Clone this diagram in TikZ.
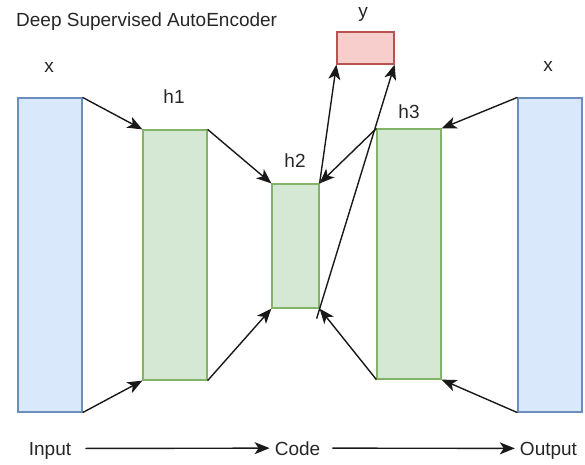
\documentclass[tikz,border=0pt]{standalone}
\usepackage{fontspec}
\setmainfont{Liberation Sans}
\usepackage{tikz}
\usetikzlibrary{arrows.meta}
\definecolor{inblue}{HTML}{DAE8FC}
\definecolor{inedge}{HTML}{6C8EBF}
\definecolor{hidgreen}{HTML}{D5E8D4}
\definecolor{hidedge}{HTML}{82B366}
\definecolor{outred}{HTML}{F8CECC}
\definecolor{outedge}{HTML}{B85450}
\tikzset{
  layer/.style={draw, line width=1.2pt, inner sep=0pt},
  vislayer/.style={layer, fill=inblue, draw=inedge, minimum width=64pt, minimum height=314pt},
  hidlayer/.style={layer, fill=hidgreen, draw=hidedge, minimum width=64pt},
  predlayer/.style={layer, fill=outred, draw=outedge, minimum width=57pt, minimum height=32pt},
  lbl/.style={font=\fontsize{19}{22}\selectfont, text=black!85, inner sep=0pt, anchor=base},
  arr/.style={-{Stealth[length=15pt,width=12pt,inset=4pt]}, line width=1.4pt, black!90},
}

\begin{document}
\begin{tikzpicture}[x=1pt, y=-1pt]
            \useasboundingbox (0,0) rectangle (585,464);
            % title
            \node[lbl, anchor=base west] (title) at (16,26) {Deep Supervised AutoEncoder};
            % layers
            \node[vislayer] (inp) at (50,255) {};
            \node[hidlayer, minimum height=250pt] (h1) at (175,255) {};
            \node[hidlayer, minimum width=47pt, minimum height=124pt] (h2) at (295.5,246) {};
            \node[hidlayer, minimum height=250pt] (h3) at (409,254) {};
            \node[vislayer] (out) at (550,255) {};
            \node[predlayer] (pred) at (365.5,48) {};
            % layer names
            \node[lbl] (xin) at (49,72) {x};
            \node[lbl] (h1name) at (174,103) {h1};
            \node[lbl] (h2name) at (295,167) {h2};
            \node[lbl] (h3name) at (409,118) {h3};
            \node[lbl] (xout) at (548,71) {x};
            \node[lbl] (yname) at (363,17) {y};
            % encoder
            \draw[arr] (inp.north east) -- (h1.north west);
            \draw[arr] (inp.south east) -- (h1.south west);
            \draw[arr] (h1.north east) -- (h2.north west);
            \draw[arr] (h1.south east) -- (h2.south west);
            % decoder
            \draw[arr] (out.north west) -- (h3.north east);
            \draw[arr] (out.south west) -- (h3.south east);
            \draw[arr] (h3.north west) -- (h2.north east);
            \draw[arr] (h3.south west) -- (h2.south east);
            % supervision
            \coordinate (h2foot) at ([xshift=-3pt, yshift=-10pt]h2.south east);
            \draw[arr] (h2.north east) -- (pred.south west);
            \draw[arr] (h2foot) -- (pred.south east);
            % bottom row
            \node[lbl, text depth=0pt] (inword) at (50,455) {Input};
            \node[lbl, text depth=0pt] (codeword) at (297.5,455) {Code};
            \node[lbl, text depth=0pt] (outword) at (548.5,455) {Output};
            \draw[arr, shorten <=14pt, shorten >=5pt] (inword.east) -- (codeword.west);
            \draw[arr, shorten <=12pt, shorten >=5pt] (codeword.east) -- (outword.west);
        \end{tikzpicture}
\end{document}
